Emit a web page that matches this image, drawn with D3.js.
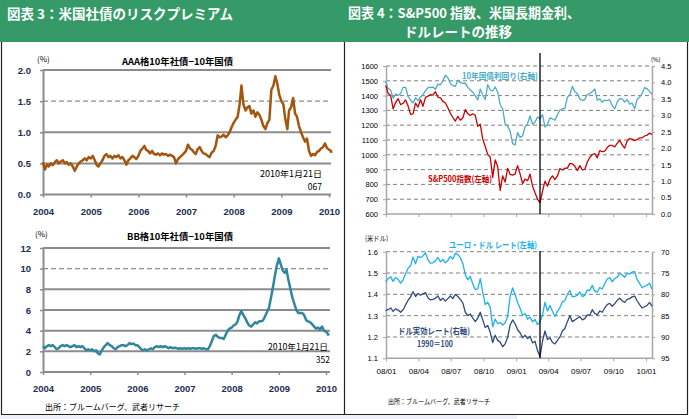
<!DOCTYPE html>
<html><head><meta charset="utf-8">
<script src="https://cdn.jsdelivr.net/npm/d3@7/dist/d3.min.js"></script>
<style>
html,body{margin:0;padding:0;background:#fff;}
svg{display:block;}
</style></head><body>
<svg id="chart" width="689" height="419"></svg>
<script>
// ================= DATA =================
const headerLeft = "図表 3：米国社債のリスクプレミアム";
const headerRight1 = "図表 4：S&P500 指数、米国長期金利、";
const headerRight2 = "ドルレートの推移";
const titleAAA = "AAA格10年社債−10年国債";
const titleBB = "BB格10年社債−10年国債";
const yearLabels = ["2004","2005","2006","2007","2008","2009","2010"];
const aaaTicks = [0, 0.5, 1.0, 1.5, 2.0];
const bbTicks = [0, 2, 4, 6, 8, 10, 12];
const spxTicks = [600,700,800,900,1000,1100,1200,1300,1400,1500,1600];
const ustTicks = [0,0.5,1.0,1.5,2.0,2.5,3.0,3.5,4.0,4.5];
const eurTicks = [1.1,1.2,1.3,1.4,1.5,1.6];
const dxyTicks = [70,75,80,85,90,95];
const monthLabels = ["08/01","08/04","08/07","08/10","09/01","09/04","09/07","09/10","10/01"];
const annotAAA = ["2010年1月21日", "067"];
const annotBB = ["2010年1月21日", "352"];
const labelUST = "10年国債利回り(右軸)";
const labelSPX = "S&P500指数(左軸)";
const labelEUR = "ユーロ・ドル レート(左軸)";
const labelDXY = ["ドル実効レート(右軸)", "1990＝100"];
const sourceText = "出所：ブルームバーグ、武者リサーチ";

// semi-monthly (1st,16th) 2004-01 .. 2010-01, last = 2010-01-21
const aaaSpread = [
 0.52,0.40,0.48,0.45,0.50,0.47,0.52,0.55,0.50,0.53,0.55,0.50,0.52,0.48,0.50,0.45,0.38,0.45,0.50,0.53,0.55,0.58,0.55,0.60,
 0.58,0.62,0.55,0.47,0.45,0.50,0.55,0.62,0.65,0.60,0.62,0.58,0.62,0.60,0.63,0.58,0.60,0.55,0.48,0.55,0.58,0.62,0.60,0.57,
 0.62,0.70,0.74,0.78,0.72,0.70,0.66,0.70,0.65,0.64,0.66,0.63,0.66,0.64,0.65,0.62,0.64,0.62,0.60,0.50,0.57,0.60,0.63,0.66,
 0.70,0.80,0.74,0.72,0.68,0.65,0.73,0.76,0.70,0.66,0.65,0.62,0.60,0.67,0.70,0.78,0.95,0.92,0.93,0.96,0.92,0.95,1.00,1.08,
 1.15,1.20,1.25,1.45,1.75,1.45,1.35,1.40,1.42,1.30,1.35,1.25,1.32,1.28,1.20,1.10,1.05,1.15,1.20,1.68,1.75,1.90,1.78,1.60,
 1.50,1.45,1.20,1.05,1.35,1.40,1.55,1.30,1.25,1.10,1.00,0.92,0.85,0.90,0.70,0.62,0.65,0.63,0.68,0.70,0.74,0.76,0.82,0.75,
 0.72,0.70,0.67
];
const bbSpread = [
 2.5,2.3,2.5,2.6,2.5,2.6,2.4,2.2,2.3,2.5,2.6,2.5,2.6,2.5,2.4,2.5,2.6,2.4,2.5,2.4,2.5,2.3,2.1,2.2,
 2.1,2.2,2.0,2.1,1.8,1.7,2.1,2.4,2.6,2.8,2.6,2.5,2.3,2.2,2.4,2.5,2.6,2.6,2.5,2.6,2.8,2.7,2.75,2.6,
 2.6,2.4,2.2,2.1,2.2,2.1,2.2,2.3,2.2,2.4,2.5,2.4,2.5,2.4,2.5,2.4,2.3,2.4,2.3,2.35,2.3,2.25,2.3,2.25,
 2.3,2.25,2.3,2.25,2.3,2.3,2.25,2.3,2.3,2.25,2.3,2.2,2.2,2.5,3.0,3.5,3.6,3.4,3.3,3.3,3.2,3.6,4.0,4.2,
 4.3,4.5,4.6,4.9,5.5,5.9,5.5,5.2,4.8,4.5,4.4,4.6,4.8,4.7,4.9,4.9,5.0,5.4,5.8,6.2,7.2,8.2,9.3,10.3,
 11.0,10.4,9.8,9.6,9.9,8.9,8.0,7.2,6.6,6.0,5.7,5.7,5.7,5.5,5.0,4.9,4.8,4.6,4.4,4.2,4.3,4.1,4.4,4.0,
 3.9,3.7,3.52
];

// weekly (Mondays) 2007-12-31 .. 2010-01-18
const spx = [
 1468,
 1416,1401,1310,1353, 1380,1339,1348,1371, 1331,1273,1277,1349,1322, 1372,1328,1388,1396,
 1407,1403,1426,1390, 1385,1361,1350,1318,1280, 1252,1228,1260,1234, 1249,1305,1278,1266,
 1277,1267,1192,1207,1106, 1056,1003,985,848, 966,919,760,857, 816,909,868,863,870,
 927,871,805,836, 825,870,789,743, 700,676,753,822,788, 835,858,832,857,
 907,897,909,910, 942,939,923,893,927, 898,901,951,982, 1002,1008,979,1028,1021,
 1025,1049,1064,1063, 1054,1077,1098,1067, 1045,1093,1110,1106,1096, 1103,1114,1115,1127,
 1133,1146,1138
];
const ust10y = [
 4.03,
 3.82,3.77,3.52,3.65, 3.60,3.66,3.85,3.85, 3.58,3.46,3.38,3.53,3.45, 3.56,3.62,3.75,3.84,
 3.85,3.86,3.79,3.95, 3.93,4.05,4.22,4.14,3.97, 3.90,3.88,4.07,4.00, 3.97,3.98,3.85,3.77,
 3.70,3.60,3.47,3.80,3.62, 3.48,3.93,3.77,3.74, 3.86,3.71,3.33,3.20, 2.73,2.68,2.52,2.14,2.10,
 2.48,2.33,2.38,2.65, 2.75,2.98,2.73,2.79, 2.95,2.90,3.02,2.64,2.72, 2.92,2.89,2.85,3.02,
 3.17,3.20,3.21,3.55, 3.63,3.88,3.72,3.66,3.50, 3.45,3.48,3.64,3.66, 3.72,3.80,3.46,3.50,3.40,
 3.46,3.45,3.47,3.30, 3.20,3.40,3.51,3.50, 3.40,3.48,3.34,3.37,3.20, 3.48,3.55,3.66,3.84,
 3.81,3.73,3.64
];
const eurusd = [
 1.459,
 1.474,1.483,1.461,1.479, 1.470,1.452,1.467,1.497, 1.522,1.535,1.575,1.543,1.578, 1.573,1.580,1.595,1.562,
 1.546,1.548,1.557,1.573, 1.552,1.564,1.548,1.559,1.578, 1.566,1.593,1.587,1.571, 1.545,1.492,1.468,1.484,
 1.449,1.423,1.426,1.474,1.411, 1.352,1.363,1.339,1.248, 1.284,1.262,1.268,1.256, 1.267,1.297,1.390,1.430,1.400,
 1.362,1.335,1.302,1.310, 1.283,1.293,1.271,1.282, 1.258,1.271,1.302,1.362,1.322, 1.348,1.321,1.296,1.320,
 1.338,1.365,1.370,1.401, 1.418,1.388,1.390,1.396,1.411, 1.389,1.395,1.421,1.418, 1.442,1.415,1.410,1.432,1.425,
 1.450,1.472,1.478,1.459, 1.474,1.481,1.499,1.491, 1.480,1.498,1.496,1.505,1.507, 1.469,1.451,1.431,1.438,
 1.443,1.452,1.424
];
const dollarIndex = [
 83.8,
 83.6,83.2,84.0,83.4, 83.7,84.2,83.6,82.5, 81.4,80.6,79.4,80.5,79.8, 80.2,79.9,79.6,80.8,
 81.3,81.2,80.9,80.4, 81.4,80.9,81.6,81.0,80.4, 81.0,80.0,80.5,81.2, 82.0,84.2,85.0,84.6,
 85.6,86.4,85.6,84.2,86.0, 87.8,87.3,88.9,91.3, 89.6,90.8,91.2,92.3, 91.6,90.1,87.2,86.0,86.9,
 88.3,89.0,90.2,89.6, 90.4,89.8,91.4,91.0, 93.2,94.6,91.0,88.6,90.6, 90.2,91.3,91.6,90.8,
 90.0,88.6,88.0,86.4, 85.0,86.4,86.0,85.6,85.2, 86.0,85.7,84.8,84.9, 83.6,84.5,84.8,83.9,84.2,
 83.2,82.4,82.1,82.8, 82.2,81.4,80.9,81.5, 81.9,81.2,81.0,80.6,80.4, 81.5,82.4,83.2,82.9,
 82.6,81.9,82.8
];

// ================= DRAW =================
const svg = d3.select("#chart");
const JP = '"Noto Sans CJK JP","Noto Sans",sans-serif';
const NUM = '"Liberation Sans",Arial,sans-serif';
const GRID = "#8c8c8c";

const halfMonthDates = aaaSpread.map((_, i) => i < 146 ? new Date(2004, Math.floor(i/2), i % 2 ? 16 : 1) : new Date(2010, 0, 21));
const weekDates = d3.timeMonday.range(new Date(2007, 11, 31), new Date(2010, 0, 19));
const yearDates = yearLabels.map(y => new Date(+y, 0, 1));
const quarterDates = monthLabels.map(s => new Date(2000 + +s.slice(0,2), +s.slice(3) - 1, 1));

function txt(x, y, s, o = {}) {
  const t = svg.append("text").attr("x", x).attr("y", y).text(s)
    .attr("font-family", o.font || JP).attr("font-size", o.size || 9)
    .attr("font-weight", o.weight || "normal").attr("fill", o.fill || "#000")
    .attr("text-anchor", o.anchor || "start");
  if (o.len) t.attr("textLength", o.len).attr("lengthAdjust", "spacingAndGlyphs");
  return t;
}

// header band
svg.append("rect").attr("x", 0).attr("y", 0).attr("width", 689).attr("height", 42).attr("fill", "#359A68");
txt(7, 19, headerLeft, {size: 13.5, weight: "bold", fill: "#fff", len: 226});
txt(348, 18, headerRight1, {size: 13.5, weight: "bold", fill: "#fff", len: 232});
txt(404, 37, headerRight2, {size: 13.5, weight: "bold", fill: "#fff", len: 108});

// bottom strip + frame
svg.append("rect").attr("x", 0).attr("y", 415).attr("width", 517).attr("height", 4).attr("fill", "#eef1f9");
const frame = [[1.5,42,1.5,414.5],[687.5,42,687.5,414.5],[1,414.5,688,414.5],[344.5,42,344.5,414.5]];
svg.selectAll("line.frame").data(frame).join("line").attr("class","frame")
  .attr("x1", d => d[0]).attr("y1", d => d[1]).attr("x2", d => d[2]).attr("y2", d => d[3])
  .attr("stroke", "#222").attr("stroke-width", 1.2);

// ---------- left spread charts ----------
function spreadChart(c) {
  const x = d3.scaleTime().domain([yearDates[0], yearDates[yearDates.length-1]]).range([c.x0, c.x1]);
  const y = d3.scaleLinear().domain([0, c.ymax]).range([c.yb, c.yt]);
  const g = svg.append("g");
  g.selectAll("line.grid").data(c.ticks.filter(v => v > 0)).join("line")
    .attr("x1", c.x0).attr("x2", c.gx1).attr("y1", d => y(d)).attr("y2", d => y(d))
    .attr("stroke", GRID).attr("stroke-width", d => d === c.dashed ? 1.3 : 2)
    .attr("stroke-dasharray", d => d === c.dashed ? "5,3" : null);
  const ya = g.append("g").attr("transform", `translate(${c.x0},0)`)
    .call(d3.axisLeft(y).tickValues(c.ticks).tickSize(3).tickSizeOuter(0).tickPadding(9).tickFormat(c.fmt));
  const xa = g.append("g").attr("transform", `translate(0,${c.yb})`)
    .call(d3.axisBottom(x).tickValues(yearDates).tickSize(3).tickSizeOuter(0).tickFormat(d3.timeFormat("%Y")));
  xa.select(".domain").remove();
  g.append("line").attr("x1", c.x0).attr("x2", c.gx1).attr("y1", c.yb).attr("y2", c.yb).attr("stroke", GRID).attr("stroke-width", 2);
  [ya, xa].forEach(a => {
    a.selectAll(".domain").attr("stroke", GRID).attr("stroke-width", 2);
    a.selectAll(".tick line").attr("stroke", GRID).attr("stroke-width", 1.5);
    a.selectAll(".tick text").attr("font-family", NUM).attr("font-size", 9.5).attr("font-weight", "bold").attr("fill", "#1d2d50");
  });
  xa.selectAll(".tick text").attr("y", c.xlab).attr("dy", 0);
  g.append("path").datum(c.values)
    .attr("d", d3.line().x((d, i) => x(halfMonthDates[i])).y(d => y(d)))
    .attr("fill", "none").attr("stroke", c.color).attr("stroke-width", 2.5).attr("stroke-linejoin", "round");
  txt(c.titleX, c.titleY, c.title, {size: 9.5, weight: "bold", len: c.titleLen});
  txt(c.pctX, c.pctY, "(%)", {size: 8});
  txt(c.annX, c.annY1, c.annot[0], {size: 8.5, anchor: "end", len: c.annLen});
  txt(c.annX2, c.annY2, c.annot[1], {size: 8.5, anchor: "end"});
}
spreadChart({x0: 43, x1: 329, gx1: 331, yb: 194.5, yt: 70, ymax: 2, ticks: aaaTicks, dashed: 1.5,
  fmt: d3.format(".1f"), xlab: 20, values: aaaSpread, color: "#A4560F",
  title: titleAAA, titleX: 122, titleY: 65, titleLen: 111, pctX: 37, pctY: 62,
  annot: annotAAA, annX: 322, annY1: 177, annX2: 322, annY2: 190, annLen: 62});
spreadChart({x0: 43, x1: 326, gx1: 330, yb: 372, yt: 248, ymax: 12, ticks: bbTicks, dashed: 10,
  fmt: d3.format("d"), xlab: 20, values: bbSpread, color: "#31869B",
  title: titleBB, titleX: 127, titleY: 240, titleLen: 106, pctX: 35, pctY: 237,
  annot: annotBB, annX: 328, annY1: 350, annX2: 330, annY2: 363, annLen: 60});
txt(45, 410, sourceText, {size: 8.5, len: 135});

// ---------- right dual-axis charts ----------
function dualChart(c) {
  const x = d3.scaleTime().domain([quarterDates[0], quarterDates[quarterDates.length-1]]).range([386, 646]);
  const yL = d3.scaleLinear().domain(c.lDom).range([c.yb, c.yt]);
  const yR = d3.scaleLinear().domain(c.rDom).range(c.rRange);
  const g = svg.append("g");
  g.selectAll("line.grid").data(c.lTicks.slice(1)).join("line")
    .attr("x1", 386).attr("x2", 652).attr("y1", d => yL(d)).attr("y2", d => yL(d))
    .attr("stroke", "#7f7f7f").attr("stroke-width", 1).attr("stroke-dasharray", "4,3");
  const la = g.append("g").attr("transform", "translate(386,0)")
    .call(d3.axisLeft(yL).tickValues(c.lTicks).tickSize(3).tickSizeOuter(0).tickPadding(5).tickFormat(c.lFmt));
  const ra = g.append("g").attr("transform", "translate(652,0)")
    .call(d3.axisRight(yR).tickValues(c.rTicks).tickSize(3).tickSizeOuter(0).tickPadding(6).tickFormat(c.rFmt));
  const xa = g.append("g").attr("transform", `translate(0,${c.yb})`)
    .call(d3.axisBottom(x).tickValues(quarterDates).tickSize(3).tickSizeOuter(0)
      .tickFormat((d, i) => c.showX ? monthLabels[i] : ""));
  xa.select(".domain").remove();
  g.append("line").attr("x1", 386).attr("x2", 652).attr("y1", c.yb).attr("y2", c.yb).attr("stroke", "#a6a6a6").attr("stroke-width", 1.5);
  [la, ra, xa].forEach(a => {
    a.selectAll(".domain").attr("stroke", "#a6a6a6").attr("stroke-width", 1.5);
    a.selectAll(".tick line").attr("stroke", "#a6a6a6").attr("stroke-width", 1);
    a.selectAll(".tick text").attr("font-family", NUM).attr("font-size", 7.5).attr("fill", "#000");
  });
  xa.selectAll(".tick text").attr("y", 10).attr("dy", "0.71em").attr("font-size", 8);
  const line = (vals, sc) => d3.line().x((d, i) => x(weekDates[i])).y(d => sc(d))(vals);
  g.append("path").attr("d", line(c.rVals, yR)).attr("fill", "none").attr("stroke", c.rColor).attr("stroke-width", 1.3).attr("stroke-linejoin", "round");
  g.append("path").attr("d", line(c.lVals, yL)).attr("fill", "none").attr("stroke", c.lColor).attr("stroke-width", 1.3).attr("stroke-linejoin", "round");
  const vx = x(new Date(2009, 2, 9));
  g.append("line").attr("x1", vx).attr("x2", vx).attr("y1", c.vTop).attr("y2", c.yb).attr("stroke", "#000").attr("stroke-width", 1.3);
}
dualChart({yb: 214, yt: 66, lDom: [600, 1600], lTicks: spxTicks, lFmt: d3.format("d"),
  rDom: [0, 4.5], rRange: [214, 66], rTicks: ustTicks, rFmt: d3.format(".1f"),
  lVals: spx, lColor: "#CC0000", rVals: ust10y, rColor: "#4BACC6", showX: false, vTop: 53});
dualChart({yb: 358.3, yt: 251.7, lDom: [1.1, 1.6], lTicks: eurTicks, lFmt: d3.format(".1f"),
  rDom: [70, 95], rRange: [251.7, 358.3], rTicks: dxyTicks, rFmt: d3.format("d"),
  lVals: eurusd, lColor: "#1AB2EE", rVals: dollarIndex, rColor: "#2F4B7C", showX: true, vTop: 251});

txt(651, 62, "(%)", {size: 6});
txt(462, 79, labelUST, {size: 8.5, weight: "bold", fill: "#4BACC6", len: 76});
txt(428, 182, labelSPX, {size: 8.5, weight: "bold", fill: "#CC0000", len: 64});
txt(365, 241, "(米ドル)", {size: 7, len: 23});
txt(449, 248, labelEUR, {size: 8.5, weight: "bold", fill: "#1AB2EE", len: 88});
txt(398, 334, labelDXY[0], {size: 8.5, weight: "bold", fill: "#2F4B7C", len: 72});
txt(417, 347, labelDXY[1], {size: 8.5, weight: "bold", fill: "#2F4B7C", len: 36});
txt(388, 403.5, sourceText, {size: 6.5, len: 102});
</script></body></html>
